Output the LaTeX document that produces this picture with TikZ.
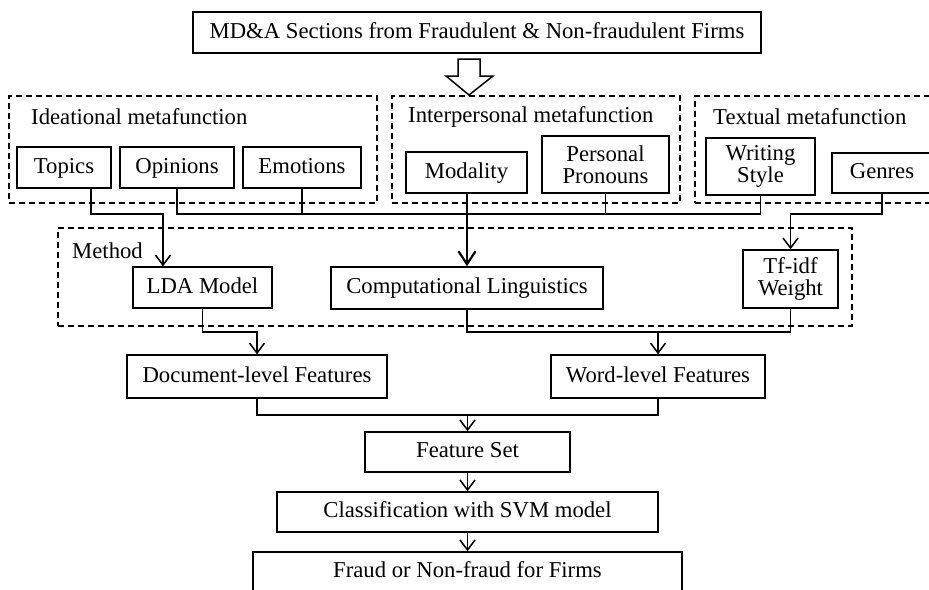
\documentclass[tikz,border=0pt]{standalone}
\usepackage{fontspec}
\setmainfont{Liberation Serif}
\usetikzlibrary{arrows.meta}
\begin{document}
\begin{tikzpicture}[x=1pt,y=-1pt,
  txt/.style={font=\fontsize{22.7}{22.5}\selectfont},
  box/.style={txt, draw, line width=1.5pt, inner sep=0pt, text height=15.5pt, text depth=4.5pt},
  box2/.style={txt, draw, line width=1.5pt, inner sep=0pt, align=center},
  grp/.style={draw, line width=1.5pt, dash pattern=on 6pt off 4pt, inner sep=0pt},
  title/.style={txt, inner sep=0pt, anchor=west},
  conn/.style={line width=1.5pt},
  thk/.style={line width=2.2pt},
  arr/.style={conn, -{Straight Barb[length=10pt,width=15pt,line width=1.5pt]}},
  thkarr/.style={thk, -{Straight Barb[length=13pt,width=17pt,line width=2.2pt]}}
]
\useasboundingbox (0,0) rectangle (929,589);
\clip (0,0) rectangle (929,589);

% source
\node[box, minimum width=568, minimum height=41] (src) at (477,32.5) {MD\&A Sections from Fraudulent \& Non-fraudulent Firms};
% hollow arrow
\draw[line width=1.5pt] (458,59) -- (480,59) -- (480,76) -- (493,76) -- (469,95) -- (446,76) -- (458,76) -- cycle;

% metafunction groups
\node[grp, minimum width=368, minimum height=107] (ideational) at (193,149.5) {};
\node[title] (ideat) at (31,117) {Ideational metafunction};
\node[grp, minimum width=288, minimum height=107] (interpersonal) at (536,149.5) {};
\node[title] (intert) at (408,117) {Interpersonal metafunction};
\node[grp, minimum width=244, minimum height=107] (textual) at (817,149.5) {};
\node[title] (textt) at (713,117) {Textual metafunction};

\node[box, minimum width=94, minimum height=41] (topics) at (64,167.5) {Topics};
\node[box, minimum width=114, minimum height=41] (opinions) at (177,167.5) {Opinions};
\node[box, minimum width=118, minimum height=41] (emotions) at (302,167.5) {Emotions};
\node[box, minimum width=121, minimum height=41] (modality) at (466.5,172.5) {Modality};
\node[box2, minimum width=127, minimum height=57] (pronouns) at (605.5,164.5) {Personal\\Pronouns};
\node[box2, minimum width=109, minimum height=57] (writing) at (760.5,166.5) {Writing\\Style};
\node[box, minimum width=100, minimum height=40] (genres) at (882,173) {Genres};

% method group
\node[grp, minimum width=794, minimum height=98] (method) at (455,277) {};
\node[title] (methodt) at (72,251) {Method};
\node[box, minimum width=139, minimum height=41] (lda) at (202.5,287.5) {LDA Model};
\node[box, minimum width=272, minimum height=42] (cl) at (467,288) {Computational Linguistics};
\node[box2, minimum width=95, minimum height=58] (tfidf) at (790.5,279) {Tf-idf\\Weight};

% features
\node[box, minimum width=260, minimum height=43] (doc) at (257,376.5) {Document-level Features};
\node[box, minimum width=214, minimum height=43] (word) at (658,376.5) {Word-level Features};
\node[box, minimum width=205, minimum height=40] (fs) at (467.5,452) {Feature Set};
\node[box, minimum width=381, minimum height=40] (cls) at (467.5,512) {Classification with SVM model};
\node[box, minimum width=429, minimum height=40] (fraud) at (467.5,572) {Fraud or Non-fraud for Firms};

% connectors: metafunctions -> methods
\coordinate (j) at (467,214);
\coordinate (lj) at (163,214);
\coordinate (gj) at (790.5,214);
\draw[arr] ([xshift=27pt]topics.south) |- (lj) -- (lda.north -| lj);
\draw[thk] (opinions.south) |- (j);
\draw[thk] (emotions.south) -- (emotions.south |- j);
\draw[thkarr] (cl.north |- modality.south) -- (cl.north);
\draw[conn] (pronouns.south) |- (j);
\draw[conn] (writing.south) |- (pronouns.south |- j);
\draw[arr] (genres.south) |- (gj) -- (tfidf.north);

% methods -> features
\coordinate (dj) at (257,332);
\coordinate (wj) at (658,332);
\draw[arr] (lda.south) |- (dj) -- (doc.north);
\draw[conn] (cl.south) |- (wj) -| (tfidf.south);
\draw[arr] (wj) -- (word.north);

% features -> feature set
\coordinate (fj) at (467.5,415);
\draw[conn] (doc.south) |- (fj) -| (word.south);
\draw[arr] (fj) -- (fs.north);
\draw[arr] (fs.south) -- (cls.north);
\draw[arr] (cls.south) -- (fraud.north);
\end{tikzpicture}
\end{document}
